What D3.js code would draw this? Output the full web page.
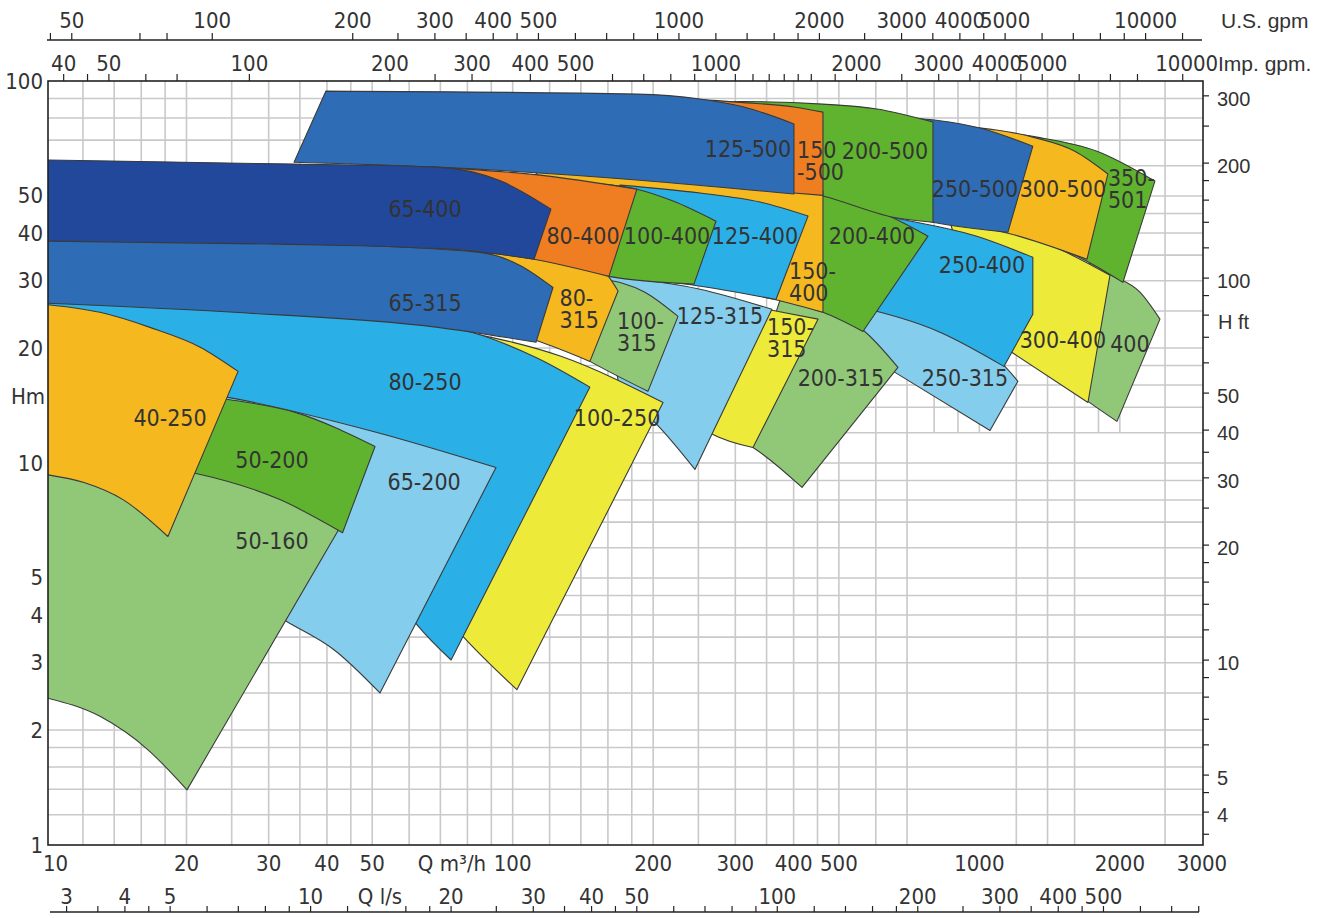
<!DOCTYPE html>
<html>
<head>
<meta charset="utf-8">
<title>Pump performance ranges</title>
<script src="https://cdn.jsdelivr.net/npm/d3@7/dist/d3.min.js"></script>
<style>
  html, body { margin: 0; padding: 0; background: #fff; }
  svg { display: block; }
</style>
</head>
<body>
<svg id="chart" width="1335" height="918"></svg>
<script>
// Flow Q in m³/h, head H in m (log–log).

// grid
const gridQ = [12,14,16,18,20,25,30,35,40,45,50,60,70,80,90,100,120,140,160,180,200,250,300,350,400,450,500,600,700,1200,1400,1600,2500];
const gridQUpper = [800,900,1000,1800,2000];          // only drawn above 12 m
const gridH = [1.2,1.4,1.6,1.8,2,2.5,3,3.5,4,4.5,5,6,7,8,9,10,12,14,16,18,20,25,30,35,40,45,50,60,70,80,90];

// axes
const qLabels = [10,20,30,40,50,100,200,300,400,500,1000,2000,3000];
const hLabels = [1,2,3,4,5,10,20,30,40,50,100];
const usTicks = [45,50,70,80,100,200,250,300,350,400,450,500,600,700,800,900,1000,1200,1400,1600,1800,2000,2500,3000,3500,4000,4500,5000,6000,7000,8000,9000,10000,12000];
const usLabels = [50,100,200,300,400,500,1000,2000,3000,4000,5000,10000];
const impTicks = [40,45,50,60,70,100,200,250,300,400,500,600,700,800,900,1000,1100,1200,1300,1400,1500,1600,1800,2000,2500,3000,3500,4000,4500,5000,6000,7000,8000,10000];
const impLabels = [40,50,100,200,300,400,500,1000,2000,3000,4000,5000,10000];
const lsTicks = [3,3.5,4,4.5,5,6,7,8,9,10,12,16,18,20,25,30,35,40,45,50,60,70,80,90,100,120,140,160,180,200,250,300,350,400,450,500,600,700,800];
const lsLabels = [3,4,5,10,20,30,40,50,100,200,300,400,500];
const ftTicks = [3.5,4,4.5,5,6,7,8,9,10,12,14,16,18,20,25,30,35,40,50,60,70,80,90,100,120,140,160,180,200,250,300];
const ftLabels = [4,5,10,20,30,40,50,100,200,300];

// operating ranges: top = largest impeller curve, bottom = smallest impeller curve, [Q, H]
const range500 = [
  {model:"125-500", top:[[39.8,94.1],[184.6,92.4],[252,89.7],[313,85.5],[400.6,77.2]], bottom:[[34,61.3],[68.8,59.5],[187.4,55.0],[400.6,50.6]]},
  {model:"150-500", top:[[196.9,90.0],[249.5,89.4],[313,87.8],[400.6,85.5],[462.3,82.9]], bottom:[[196.9,56.0],[400.6,50.9],[462.3,50.2]]},
  {model:"200-500", top:[[252,88.1],[313,88.35],[462.3,87.0],[603.5,84.5],[795.5,78.1]], bottom:[[252,55.3],[462.3,50.0],[653,44.0],[795.5,42.7]]},
  {model:"250-500", top:[[676,80.5],[1003,75.3],[1302,67.5]], bottom:[[676,44.6],[795.5,42.7],[1151.5,40.2]]},
  {model:"300-500", top:[[909,76.2],[1302,71.3],[1602,65.5],[1886,57.1]], bottom:[[909,42.4],[1151.5,39.96],[1700.6,34.15]]},
  {model:"350-501", top:[[1163,73.1],[1328,71.3],[1787,65.5],[2378,54.7]], bottom:[[1163,40.45],[1700.6,33.74],[2031,29.7]]}
];
const range400 = [
  {model:"65-400", top:[[10,62.1],[33.8,60.6],[68.8,59.5],[94.4,54.7],[120.8,46.2]], bottom:[[10,38.1],[31.7,37.4],[73.4,36.3],[111.1,34.15]]},
  {model:"80-400", top:[[66.5,59.5],[114.4,56.7],[184.6,52.1]], bottom:[[66.5,36.7],[111.1,34.15],[160.8,30.8]]},
  {model:"100-400", top:[[153.8,53.7],[184.6,52.1],[220.6,48.5],[272.7,42.95]], bottom:[[153.8,31.4],[160.8,30.8],[244.6,29.4]]},
  {model:"125-400", top:[[169.8,53.4],[252,50.9],[338.8,48.2],[429.4,44.3]], bottom:[[187.4,30.45],[244.6,29.2],[366.6,26.8]]},
  {model:"150-400", top:[[108.9,59.5],[252,55.3],[462.3,51.5]], bottom:[[187.4,31.2],[368.4,26.7],[462.3,24.8]]},
  {model:"200-400", top:[[412.7,50.6],[462.3,50.0],[612.4,45.4],[776.2,39.25]], bottom:[[412.7,25.9],[462.3,24.8],[563,22.1]]},
  {model:"250-400", top:[[554.8,46.2],[653,44.0],[1003,39.0],[1302,34.55]], edge:[[1302,24.5]], bottom:[[554.8,25.6],[823.4,22.0],[1129,17.9]]},
  {model:"300-400", top:[[865,43.0],[1417,37.2],[1905,31.0]], bottom:[[1003,22.1],[1180,19.4],[1709,14.4]]},
  {model:"350-400", top:[[1726,33.7],[1905,31.2],[2209,28.0],[2438,23.8]], bottom:[[1563,15.7],[1709,14.5],[1972,12.85]]}
];
const range315 = [
  {model:"65-315", top:[[10,38.5],[35,37.6],[85.1,35.6],[103.7,32.9],[122,28.8]], bottom:[[10,26.2],[25.3,24.8],[69.2,22.65],[112.2,20.7]]},
  {model:"80-315", top:[[81,36.1],[114.4,34.55],[153.8,32.2],[168.2,28.2]], bottom:[[81,23.5],[112.2,20.95],[146.4,18.45]]},
  {model:"100-315", top:[[153.8,30.45],[192,28.0],[226.1,24.2]], bottom:[[126.3,20.45],[146.4,18.45],[194.9,15.4]]},
  {model:"125-315", top:[[153.8,31.0],[252,28.5],[359.4,25.25]], bottom:[[169.8,15.4],[203.8,12.6],[245.8,9.62]]},
  {model:"150-315", top:[[306.9,26.0],[359.4,25.1],[451.1,23.8]], bottom:[[239.9,13.0],[268.7,11.88],[327.3,10.98]]},
  {model:"200-315", top:[[374,26.7],[462.3,24.95],[560.3,22.4],[669.2,17.8]], bottom:[[299.5,11.67],[327.3,10.98],[416.9,8.63]]},
  {model:"250-315", top:[[528,26.35],[823.4,22.25],[1129,18.0],[1209.6,16.36]], bottom:[[583,18.9],[659.5,17.27],[1054,12.17]]}
];
const range250 = [
  {model:"40-250", top:[[10,26.0],[13.05,24.8],[16.7,22.65],[21.4,20.1],[25.8,17.37]], bottom:[[10,9.33],[12.06,8.89],[14.62,8.02],[18.25,6.42]]},
  {model:"80-250", top:[[10,26.8],[69.9,22.9],[112.2,18.9],[146.4,15.8]], bottom:[[10,22.4],[26.04,13.0],[44.8,7.11],[62.4,3.77],[73.8,3.05]]},
  {model:"100-250", top:[[63.3,23.2],[78.3,22.1],[126.9,19.02],[210,14.4]], bottom:[[57.35,5.58],[78.7,3.49],[102.1,2.55]]}
];
const range200 = [
  {model:"50-200", top:[[17.55,15.4],[24.55,14.67],[34.2,13.57],[50.7,11.05]], bottom:[[16.7,9.85],[20.97,9.39],[31.7,8.02],[43.2,6.57]]},
  {model:"65-200", top:[[17.55,15.8],[24.55,14.85],[51.2,12.02],[92.1,9.73]], bottom:[[27.35,4.39],[32.85,3.84],[41.4,3.245],[51.96,2.50]]}
];
const range160 = [
  {model:"50-160", top:[[10,10.53],[21.4,9.85],[44.26,7.33]], bottom:[[10,2.43],[13.11,2.165],[16.54,1.775],[20.05,1.394]]}
];

// model names: [model, Q, H, text lines]
const nameSpots = [
  ["125-500",319.3,66.3,["125-500"]],
  ["150-500",406.7,61.7,["150","-500"]],
  ["200-500",627.8,65.5,["200-500"]],
  ["250-500",978.6,52.1,["250-500"]],
  ["300-500",1510,52.1,["300-500"]],
  ["350-501",1886,52.3,["350-","501"]],
  ["65-400",64.9,46.2,["65-400"]],
  ["80-400",141.5,39.25,["80-400"]],
  ["100-400",214.2,39.25,["100-400"]],
  ["125-400",330.5,39.25,["125-400"]],
  ["150-400",390.9,29.8,["150-","400"]],
  ["200-400",588.8,39.25,["200-400"]],
  ["250-400",1013,32.9,["250-400"]],
  ["300-400",1510,20.95,["300-400"]],
  ["350-400",2102,20.45,["400"]],
  ["65-315",64.9,26.2,["65-315"]],
  ["80-315",126,25.25,["80-","315"]],
  ["100-315",167.4,22.0,["100-","315"]],
  ["125-315",278.2,24.2,["125-315"]],
  ["150-315",350.7,21.2,["150-","315"]],
  ["200-315",505.1,16.65,["200-315"]],
  ["250-315",931.6,16.65,["250-315"]],
  ["40-250",18.44,13.08,["40-250"]],
  ["80-250",64.9,16.26,["80-250"]],
  ["100-250",167.4,13.08,["100-250"]],
  ["50-200",30.5,10.21,["50-200"]],
  ["65-200",64.6,8.94,["65-200"]],
  ["50-160",30.5,6.26,["50-160"]]
];

// unit factors
const US_GPM = 4.4029, IMP_GPM = 3.6662, LPS = 1 / 3.6, FT = 3.2808;

// ---------- drawing ----------
const svg = d3.select("#chart");
const frame = {left: 48, right: 1203, top: 81, bottom: 845};
const x = d3.scaleLog().domain([10, 3000]).range([46, 1202]);
const y = d3.scaleLog().domain([1, 100]).range([845, 81]);

const narrow = "'Liberation Sans Narrow','DejaVu Sans Condensed','Arial Narrow',sans-serif";
const plain = "'Liberation Sans',Arial,sans-serif";
const ink = "#333";

const palette = {
  navy: "#21489b", blue: "#2e6db6", orange: "#ef7d22", green: "#5fb32e",
  cyan: "#2bafe7", gold: "#f5b81f", yellow: "#eeea3a", lightGreen: "#91c878", lightBlue: "#84cdec"
};
const fillOf = {
  "125-500":"blue","150-500":"orange","200-500":"green","250-500":"blue","300-500":"gold","350-501":"green",
  "65-400":"navy","80-400":"orange","100-400":"green","125-400":"cyan","150-400":"gold","200-400":"green",
  "250-400":"cyan","300-400":"yellow","350-400":"lightGreen",
  "65-315":"blue","80-315":"gold","100-315":"lightGreen","125-315":"lightBlue","150-315":"yellow",
  "200-315":"lightGreen","250-315":"lightBlue",
  "40-250":"gold","80-250":"cyan","100-250":"yellow","50-200":"green","65-200":"lightBlue","50-160":"lightGreen"
};

svg.append("defs").append("clipPath").attr("id", "plotClip")
  .append("rect")
  .attr("x", frame.left).attr("y", frame.top)
  .attr("width", frame.right - frame.left).attr("height", frame.bottom - frame.top);

// grid
const grid = svg.append("g").attr("stroke", "#c9c9c9").attr("stroke-width", 1.6);
grid.selectAll("line.v").data(gridQ).join("line").attr("class", "v")
  .attr("x1", d => x(d)).attr("x2", d => x(d)).attr("y1", y(1)).attr("y2", y(100));
grid.selectAll("line.vu").data(gridQUpper).join("line").attr("class", "vu")
  .attr("x1", d => x(d)).attr("x2", d => x(d)).attr("y1", y(12)).attr("y2", y(100));
grid.selectAll("line.h").data(gridH).join("line").attr("class", "h")
  .attr("x1", frame.left).attr("x2", frame.right).attr("y1", d => y(d)).attr("y2", d => y(d));

// ranges: larger pump sizes underneath, smaller on top; within a size the larger impeller on top
const allRanges = [...range500, ...range400, ...range315, ...range250, ...range200, ...range160];
const sizeOf = m => +m.split("-")[0], impOf = m => +m.split("-")[1];
allRanges.sort((a, b) => (sizeOf(b.model) - sizeOf(a.model)) || (impOf(a.model) - impOf(b.model)));

const seg = d3.line().x(d => x(d[0])).y(d => y(d[1])).curve(d3.curveMonotoneX);
function outline(r) {
  let p = seg(r.top);
  (r.edge || []).forEach(e => { p += "L" + x(e[0]) + "," + y(e[1]); });
  p += seg(r.bottom.slice().reverse()).replace(/^M/, "L");
  return p + "Z";
}
svg.append("g").attr("clip-path", "url(#plotClip)")
  .selectAll("path").data(allRanges).join("path")
  .attr("d", outline)
  .attr("fill", d => palette[fillOf[d.model]])
  .attr("stroke", "#3a3a3a").attr("stroke-width", 1.1).attr("stroke-linejoin", "round");

// model names
const names = svg.append("g").attr("font-family", narrow).attr("font-size", 23).attr("fill", ink);
nameSpots.forEach(([m, q, h, lines]) => {
  const t = names.append("text")
    .attr("x", x(q)).attr("y", y(h))
    .attr("text-anchor", lines.length > 1 ? "start" : "middle")
    .attr("dominant-baseline", "central");
  lines.forEach((s, i) => t.append("tspan").attr("x", x(q))
    .attr("dy", i === 0 ? -(lines.length - 1) * 11 : 22).text(s));
});

// frame
svg.append("rect").attr("x", frame.left).attr("y", frame.top)
  .attr("width", frame.right - frame.left).attr("height", frame.bottom - frame.top)
  .attr("fill", "none").attr("stroke", "#222").attr("stroke-width", 1.6);

const axisText = svg.append("g").attr("font-family", narrow).attr("font-size", 22).attr("fill", ink);

// left: H m
axisText.selectAll("text.h").data(hLabels).join("text").attr("class", "h")
  .attr("x", 43).attr("y", d => y(d)).attr("text-anchor", "end")
  .attr("dominant-baseline", "central").text(d => d);
axisText.append("text").attr("x", 28).attr("y", 396).attr("text-anchor", "middle")
  .attr("dominant-baseline", "central").text("Hm");

// bottom: Q m³/h
axisText.selectAll("text.q").data(qLabels).join("text").attr("class", "q")
  .attr("x", d => d === 10 ? x(d) - 3 : x(d)).attr("y", 863)
  .attr("text-anchor", d => d === 10 ? "start" : "middle")
  .attr("dominant-baseline", "central").text(d => d);
axisText.append("text").attr("x", 452).attr("y", 863).attr("text-anchor", "middle")
  .attr("dominant-baseline", "central").text("Q m³/h");

// bottom: Q l/s
const lsY = 912, lsShift = 5;
const lsX = v => x(v / LPS) + lsShift;
svg.append("line").attr("x1", 50).attr("x2", 1199).attr("y1", lsY).attr("y2", lsY)
  .attr("stroke", "#222").attr("stroke-width", 1.4);
svg.append("g").attr("stroke", "#222").attr("stroke-width", 1.2)
  .selectAll("line").data(lsTicks).join("line")
  .attr("x1", lsX).attr("x2", lsX).attr("y1", lsY).attr("y2", lsY - 6);
axisText.selectAll("text.ls").data(lsLabels).join("text").attr("class", "ls")
  .attr("x", lsX).attr("y", 896).attr("text-anchor", "middle")
  .attr("dominant-baseline", "central").text(d => d);
axisText.append("text").attr("x", 380).attr("y", 896).attr("text-anchor", "middle")
  .attr("dominant-baseline", "central").text("Q l/s");

// top: U.S. gpm
const usY = 40;
const usX = v => x(v / US_GPM);
svg.append("line").attr("x1", 47).attr("x2", 1202).attr("y1", usY).attr("y2", usY)
  .attr("stroke", "#222").attr("stroke-width", 1.4);
svg.append("g").attr("stroke", "#222").attr("stroke-width", 1.2)
  .selectAll("line").data(usTicks).join("line")
  .attr("x1", usX).attr("x2", usX).attr("y1", usY).attr("y2", usY - 7);
axisText.selectAll("text.us").data(usLabels).join("text").attr("class", "us")
  .attr("x", usX).attr("y", 20).attr("text-anchor", "middle")
  .attr("dominant-baseline", "central").text(d => d);

// top: Imp. gpm (on the frame)
const impX = v => x(v / IMP_GPM);
svg.append("g").attr("stroke", "#222").attr("stroke-width", 1.2)
  .selectAll("line").data(impTicks).join("line")
  .attr("x1", impX).attr("x2", impX).attr("y1", frame.top).attr("y2", frame.top - 7);
axisText.selectAll("text.imp").data(impLabels).join("text").attr("class", "imp")
  .attr("x", d => d === 10000 ? impX(d) + 4 : impX(d)).attr("y", 63).attr("text-anchor", "middle")
  .attr("dominant-baseline", "central").text(d => d);

// right: H ft
const ftY = v => y(v / FT);
svg.append("g").attr("stroke", "#222").attr("stroke-width", 1.2)
  .selectAll("line").data(ftTicks).join("line")
  .attr("x1", frame.right).attr("x2", frame.right + 6).attr("y1", ftY).attr("y2", ftY);
const rightText = svg.append("g").attr("font-family", plain).attr("font-size", 20).attr("fill", ink);
rightText.selectAll("text").data(ftLabels).join("text")
  .attr("x", 1217).attr("y", d => ftY(d) + 3).attr("dominant-baseline", "central").text(d => d);
rightText.append("text").attr("x", 1218).attr("y", 322).attr("dominant-baseline", "central").text("H ft");

// unit names at the top right
const unitText = svg.append("g").attr("font-family", plain).attr("font-size", 21).attr("fill", ink);
unitText.append("text").attr("x", 1221).attr("y", 20).attr("dominant-baseline", "central").text("U.S. gpm");
unitText.append("text").attr("x", 1218).attr("y", 63).attr("dominant-baseline", "central").text("Imp. gpm.");
</script>
</body>
</html>
